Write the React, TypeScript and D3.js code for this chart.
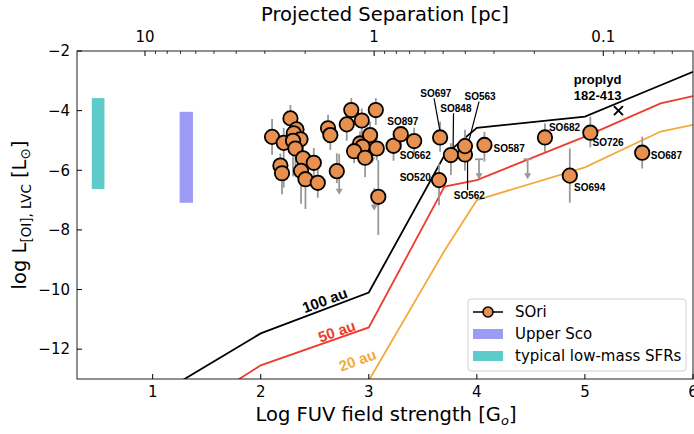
import React from "react";
import * as d3 from "d3";

const W = 694;
const H = 434;
const PL = 77, PR = 693, PT = 51, PB = 379;

// model grid (log G0) and model curves (log L)
const gridLogG0 = [1, 2, 3, 3.7, 4, 5, 5.7, 6];
const model100 = [-13.64, -11.47, -10.1, -5.5, -4.58, -4.2, -3.15, -2.7];
const model50 = [-14.85, -12.54, -11.27, -6.55, -6.33, -4.87, -3.76, -3.51];
const model20 = [-17.2, -15.2, -13.05, -8.7, -7.0, -5.9, -4.7, -4.48];

// SOri detections
const soriX = [2.105, 2.275, 2.213, 2.182, 2.197, 2.331, 2.306, 2.368, 2.299, 2.321, 2.392, 2.491, 2.373, 2.414, 2.528, 2.623, 2.644, 2.704, 2.838, 2.796, 3.065, 2.935, 2.919, 3.012, 2.942, 2.864, 2.966, 3.074, 3.229, 3.296, 3.088, 3.42, 3.66, 3.65, 3.76, 3.89, 3.89, 4.07, 4.63, 4.86, 5.05, 5.53];
const soriY = [-4.88, -4.26, -5.08, -5.84, -6.10, -4.63, -4.76, -4.96, -5.01, -5.27, -5.60, -5.75, -6.02, -6.30, -6.42, -4.59, -4.82, -6.03, -3.98, -4.46, -3.98, -4.33, -5.10, -4.82, -5.21, -5.36, -5.58, -5.27, -5.18, -4.79, -6.89, -5.02, -4.90, -6.33, -5.49, -5.47, -5.19, -5.15, -4.90, -6.18, -4.74, -5.41];
const soriErrUp = [0.6, 0.45, 0.5, 0.4, 0.3, 0.4, 0.5, 0.5, 0.5, 0.4, 0.5, 0.5, 0.5, 0.5, 0.9, 0.45, 0.4, 0.6, 0.4, 0.45, 0.4, 0.4, 0.4, 0.45, 0.4, 0.4, 0.4, 0.4, 0.5, 0.25, 1.23, 0.45, 0.53, 0.56, 0.4, 0.3, 0.55, 0.44, 0.48, 0.91, 0.54, 0.54];
const soriErrDown = [0.6, 0.5, 1.5, 0.5, 0.7, 0.5, 0.5, 0.6, 1.2, 0.6, 0.8, 0.5, 1.1, 1.0, 0.5, 0.5, 0.5, 0.4, 0.4, 0.55, 0.5, 0.5, 0.6, 0.5, 0.6, 0.4, 0.65, 0.4, 0.5, 0.5, 1.28, 0.45, 0.48, 0.84, 0.67, 0.55, 0.3, 0.56, 0.49, 0.91, 0.49, 0.53];

// upper limits (arrows)
const ulX = [2.726, 3.03, 3.05, 4.02, 4.47];
const ulTop = [-5.45, -5.35, -6.6, -5.63, -5.63];
const ulBottom = [-6.82, -5.77, -7.36, -6.3, -6.3];
const ulCap = [false, false, false, true, true];

// source labels
const labelText = ["SO897", "SO662", "SO697", "SO848", "SO563", "SO562", "SO520", "SO587", "SO682", "SO726", "SO687", "SO694"];
const labelX = [3.315, 3.287, 3.62, 3.806, 4.03, 3.93, 3.574, 4.155, 4.667, 5.07, 5.61, 4.9];
const labelY = [-4.35, -5.49, -3.43, -3.92, -3.51, -6.83, -6.25, -5.27, -4.58, -5.06, -5.49, -6.57];
const labelAnchor = ["middle", "start", "middle", "middle", "middle", "middle", "end", "start", "start", "start", "start", "start"];

// leader lines
const leaderX1 = [3.604, 3.784, 4.02, 3.914];
const leaderY1 = [-3.59, -4.09, -3.7, -5.55];
const leaderX2 = [3.66, 3.78, 3.928, 3.914];
const leaderY2 = [-4.71, -5.3, -4.99, -6.66];

// shaded ranges
const bandNames = ["typical low-mass SFRs", "Upper Sco"];
const bandX0 = [0.437, 1.25];
const bandX1 = [0.554, 1.373];
const bandYlo = [-6.63, -7.09];
const bandYhi = [-3.58, -4.04];

const proplydX = 5.31;
const proplydY = -4.0;

const xTicks = [1, 2, 3, 4, 5, 6];
const yTicks = [-2, -4, -6, -8, -10, -12];
const topMajor = [10, 1, 0.1];
const topLabels = ["10", "1", "0.1"];

const ORANGE = "#E8904F";
const RED = "#EE3B2C";
const GOLD = "#F4AA3A";
const TEAL = "#5ECBCB";
const PURPLE = "#9C9CF6";
const GREY = "#999999";

export default function App() {
  const x = d3.scaleLinear().domain([0.3, 6]).range([PL, PR]);
  const y = d3.scaleLinear().domain([-13, -2]).range([PB, PT]);
  // projected separation (pc) top axis
  const xTop = d3.scaleLog().domain([19.8, 0.0406]).range([PL, PR]);

  const line = d3
    .line<number>()
    .x((_, i) => x(gridLogG0[i]))
    .y((d) => y(d));

  const models = [
    { v: model100, c: "#000000" },
    { v: model50, c: RED },
    { v: model20, c: GOLD },
  ];

  const topMinor: number[] = [];
  [0.01, 0.1, 1, 10].forEach((dec) => {
    for (let k = 2; k <= 9; k++) {
      const v = dec * k;
      if (v < 19.8 && v > 0.0406) topMinor.push(v);
    }
  });

  const axisFont = "DejaVu Sans, sans-serif";
  const annFont = "Liberation Sans, Arial, sans-serif";

  const arrowHead = (cx: number, tipY: number) =>
    `M${cx - 3.5},${tipY - 6} L${cx + 3.5},${tipY - 6} L${cx},${tipY} Z`;

  return (
    <svg
      width={W}
      height={H}
      style={{ position: "absolute", left: 0, top: 0, background: "#fff" }}
      xmlns="http://www.w3.org/2000/svg"
    >
      <defs>
        <clipPath id="plotclip">
          <rect x={PL} y={PT} width={PR - PL} height={PB - PT} />
        </clipPath>
      </defs>

      {/* shaded bands */}
      {bandNames.map((n, i) => (
        <rect
          key={n}
          x={x(bandX0[i])}
          y={y(bandYhi[i])}
          width={x(bandX1[i]) - x(bandX0[i])}
          height={y(bandYlo[i]) - y(bandYhi[i])}
          fill={i === 0 ? TEAL : PURPLE}
        />
      ))}

      {/* model lines */}
      <g clipPath="url(#plotclip)">
        {models.map((m, i) => (
          <path key={i} d={line(m.v) || ""} fill="none" stroke={m.c} strokeWidth={1.8} />
        ))}
      </g>

      {/* model labels */}
      <g fontFamily={annFont} fontWeight="bold" fontSize={15} textAnchor="middle">
        <text transform={`translate(${x(2.593)},${y(-10.36)}) rotate(-20.5)`} dy="0.35em" fill="#000">
          100 au
        </text>
        <text transform={`translate(${x(2.704)},${y(-11.4)}) rotate(-19.5)`} dy="0.35em" fill={RED}>
          50 au
        </text>
        <text transform={`translate(${x(2.895)},${y(-12.37)}) rotate(-20)`} dy="0.35em" fill={GOLD}>
          20 au
        </text>
      </g>

      {/* error bars */}
      <g stroke={GREY} strokeWidth={1.8}>
        {soriX.map((v, i) => (
          <line
            key={i}
            x1={x(v)}
            x2={x(v)}
            y1={y(soriY[i] + soriErrUp[i])}
            y2={y(soriY[i] - soriErrDown[i])}
          />
        ))}
      </g>

      {/* upper limits */}
      <g>
        {ulX.map((v, i) => (
          <g key={i}>
            <line x1={x(v)} x2={x(v)} y1={y(ulTop[i])} y2={y(ulBottom[i]) - 4} stroke={GREY} strokeWidth={1.8} />
            {ulCap[i] && (
              <line x1={x(v) - 4} x2={x(v) + 4} y1={y(ulTop[i])} y2={y(ulTop[i])} stroke={GREY} strokeWidth={1.8} />
            )}
            <path d={arrowHead(x(v), y(ulBottom[i]))} fill={GREY} />
          </g>
        ))}
      </g>

      {/* leader lines */}
      <g stroke="#000" strokeWidth={1.2}>
        {leaderX1.map((v, i) => (
          <line key={i} x1={x(v)} y1={y(leaderY1[i])} x2={x(leaderX2[i])} y2={y(leaderY2[i])} />
        ))}
      </g>

      {/* points */}
      <g>
        {soriX.map((v, i) => (
          <circle key={i} cx={x(v)} cy={y(soriY[i])} r={7.2} fill={ORANGE} stroke="#000" strokeWidth={1.8} />
        ))}
      </g>

      {/* source labels */}
      <g fontFamily={annFont} fontWeight="bold" fontSize={10} fill="#000">
        {labelText.map((t, i) => (
          <text key={t} x={x(labelX[i])} y={y(labelY[i])} dy="0.35em" textAnchor={labelAnchor[i]}>
            {t}
          </text>
        ))}
      </g>

      {/* proplyd */}
      <g stroke="#000" strokeWidth={2}>
        <line x1={x(proplydX) - 4.5} x2={x(proplydX) + 4.5} y1={y(proplydY) - 4.5} y2={y(proplydY) + 4.5} />
        <line x1={x(proplydX) - 4.5} x2={x(proplydX) + 4.5} y1={y(proplydY) + 4.5} y2={y(proplydY) - 4.5} />
      </g>
      <g fontFamily={annFont} fontWeight="bold" fontSize={13} textAnchor="middle">
        <text x={x(5.117)} y={y(-2.97)} dy="0.35em">proplyd</text>
        <text x={x(5.117)} y={y(-3.48)} dy="0.35em">182-413</text>
      </g>

      {/* frame */}
      <rect x={PL} y={PT} width={PR - PL} height={PB - PT} fill="none" stroke="#222" strokeWidth={1} />

      {/* bottom axis */}
      <g fontFamily={axisFont} fontSize={15} textAnchor="middle" fill="#000">
        {xTicks.map((t) => (
          <g key={t}>
            <line x1={x(t)} x2={x(t)} y1={PB} y2={PB - 5} stroke="#000" strokeWidth={1} />
            <text x={x(t)} y={PB + 18}>{t}</text>
          </g>
        ))}
      </g>

      {/* left axis */}
      <g fontFamily={axisFont} fontSize={15} textAnchor="end" fill="#000">
        {yTicks.map((t) => (
          <g key={t}>
            <line x1={PL} x2={PL + 5} y1={y(t)} y2={y(t)} stroke="#000" strokeWidth={1} />
            <text x={PL - 7} y={y(t)} dy="0.35em">{"\u2212" + Math.abs(t)}</text>
          </g>
        ))}
      </g>

      {/* top axis */}
      <g>
        {topMinor.map((t) => (
          <line key={t} x1={xTop(t)} x2={xTop(t)} y1={PT} y2={PT + 3} stroke="#000" strokeWidth={0.8} />
        ))}
        {topMajor.map((t, i) => (
          <g key={t}>
            <line x1={xTop(t)} x2={xTop(t)} y1={PT} y2={PT + 5} stroke="#000" strokeWidth={1} />
            <text x={xTop(t)} y={PT - 9} fontFamily={axisFont} fontSize={15} textAnchor="middle">
              {topLabels[i]}
            </text>
          </g>
        ))}
      </g>

      {/* axis titles */}
      <text x={385} y={21} fontFamily={axisFont} fontSize={19.5} textAnchor="middle">
        Projected Separation [pc]
      </text>
      <text x={386} y={421} fontFamily={axisFont} fontSize={19.5} textAnchor="middle">
        Log FUV field strength [G
        <tspan fontStyle="italic" fontSize={13} dy={4}>o</tspan>
        <tspan dy={-4}>]</tspan>
      </text>
      <text
        transform={`translate(26,${(PT + PB) / 2}) rotate(-90)`}
        fontFamily={axisFont}
        fontSize={19.5}
        textAnchor="middle"
      >
        log L
        <tspan fontSize={13.5} dy={5}>[OI], LVC</tspan>
        <tspan dy={-5}> [L</tspan>
        <tspan fontSize={13.5} dy={4}>⊙</tspan>
        <tspan dy={-4}>]</tspan>
      </text>

      {/* legend */}
      <g>
        <rect x={468} y={299} width={218} height={72} rx={3} fill="#fff" fillOpacity={0.85} stroke="#d0d0d0" />
        <line x1={473} x2={503} y1={312} y2={312} stroke="#000" strokeWidth={1.5} />
        <circle cx={488} cy={312} r={5} fill={ORANGE} stroke="#000" strokeWidth={1.5} />
        <rect x={473} y={329} width={30} height={10} fill={PURPLE} />
        <rect x={473} y={351} width={30} height={10} fill={TEAL} />
        <g fontFamily={axisFont} fontSize={15} fill="#000">
          <text x={515} y={312} dy="0.35em">SOri</text>
          <text x={515} y={334} dy="0.35em">Upper Sco</text>
          <text x={515} y={356} dy="0.35em">typical low-mass SFRs</text>
        </g>
      </g>
    </svg>
  );
}
